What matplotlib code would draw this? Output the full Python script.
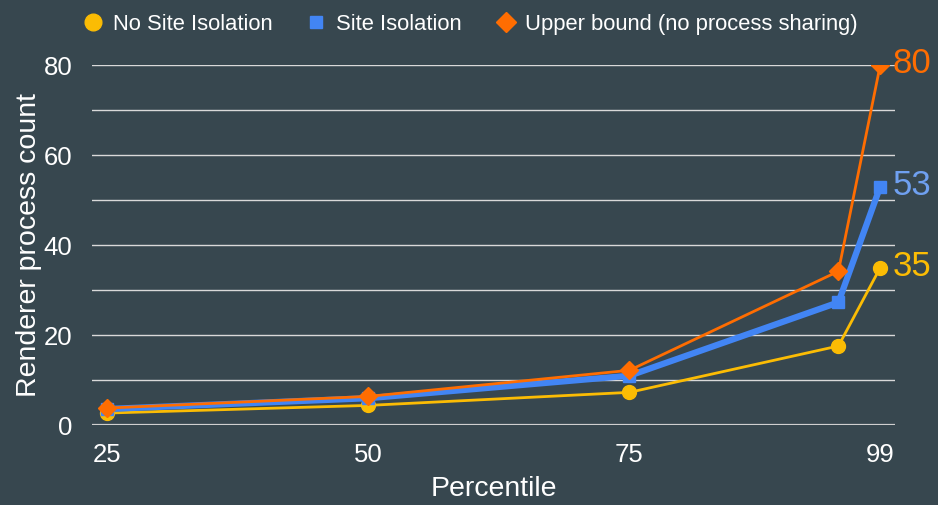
import matplotlib.pyplot as plt
from matplotlib.lines import Line2D

# Data
percentiles = [25, 50, 75, 95, 99]
tick_labels = ["25", "50", "75", "99"]
tick_positions = [25, 50, 75, 99]
no_site_isolation = [2.7, 4.4, 7.3, 17.6, 35]
site_isolation = [3.6, 6.0, 11.0, 27.3, 53]
upper_bound = [3.8, 6.4, 12.2, 34.2, 80]
end_labels = ["35", "53", "80"]

BG = '#37474f'
YELLOW = '#fbbc04'
BLUE = '#4285f4'
ORANGE = '#ff6d01'

plt.rcParams['font.family'] = ['Liberation Sans', 'DejaVu Sans']

fig = plt.figure(figsize=(9.38, 5.05), dpi=100, facecolor=BG)
ax = fig.add_axes([0.098, 0.158, 0.856, 0.713])
ax.set_facecolor(BG)

ax.set_xlim(23.56, 100.4)
ax.set_ylim(0, 80)

# grid lines every 10
for y in range(0, 90, 10):
    ax.axhline(y, color='#d9d9d9' if y else '#cfcfcf', lw=1.0 if y else 1.6, zorder=1)

ax.plot(percentiles, no_site_isolation, color=YELLOW, lw=2, marker='o', ms=10,
        zorder=3, clip_on=False)
ax.plot(percentiles, site_isolation, color=BLUE, lw=4.5, marker='s', ms=9,
        zorder=4, clip_on=False)
ax.plot(percentiles, upper_bound, color=ORANGE, lw=2, marker='D', ms=9,
        zorder=5, clip_on=True)

# end-of-series value labels
for vals, lab, col in [(no_site_isolation, end_labels[0], YELLOW),
                       (site_isolation, end_labels[1], '#6fa0f0'),
                       (upper_bound, end_labels[2], ORANGE)]:
    ax.annotate(lab, xy=(percentiles[-1], vals[-1]), xytext=(9, 1),
                textcoords='offset points', ha='left', va='center',
                fontsize=25, color=col, annotation_clip=False)

ax.set_xticks(tick_positions)
ax.set_xticklabels(tick_labels)
ax.set_yticks([0, 20, 40, 60, 80])
ax.tick_params(colors='white', labelsize=18.5, length=0, pad=13)
ax.tick_params(axis='y', pad=14)
for s in ax.spines.values():
    s.set_visible(False)

ax.set_xlabel("Percentile", color='white', fontsize=20.5, labelpad=6)
ax.set_ylabel("Renderer process count", color='white', fontsize=20.5, labelpad=1)

handles = [
    Line2D([], [], color=YELLOW, marker='o', ls='none', ms=12),
    Line2D([], [], color=BLUE, marker='s', ls='none', ms=9),
    Line2D([], [], color=ORANGE, marker='D', ls='none', ms=10),
]
labels = ["No Site Isolation", "Site Isolation", "Upper bound (no process sharing)"]
leg = fig.legend(handles, labels, loc='upper center', bbox_to_anchor=(0.5, 1.012),
                 ncol=3, frameon=False, fontsize=15.8, handletextpad=0.3,
                 columnspacing=1.4, handlelength=1.2)
for t in leg.get_texts():
    t.set_color('white')

fig.savefig('out.png', dpi=100, facecolor=BG)
